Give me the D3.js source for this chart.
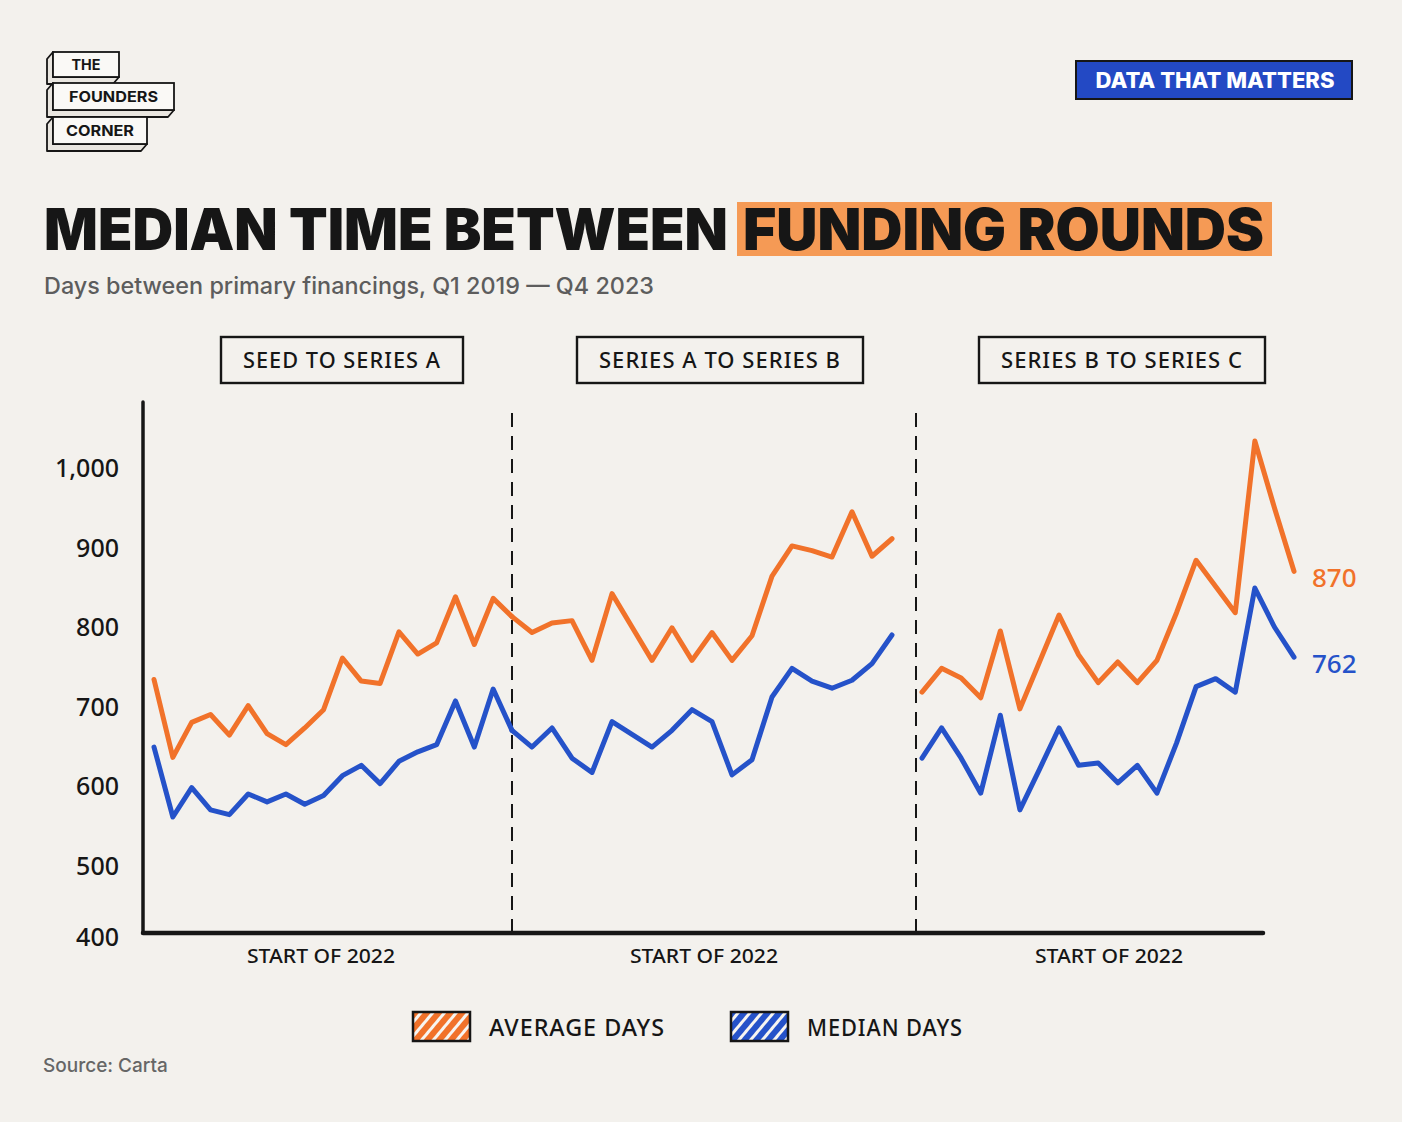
<!DOCTYPE html>
<html>
<head>
<meta charset="utf-8">
<script src="https://cdn.jsdelivr.net/npm/d3@7"></script>
<style>
  html, body { margin: 0; padding: 0; background: #f3f1ed; }
  svg { display: block; }
</style>
</head>
<body>
<div id="chart"></div>
<script>
// ---- data (days between rounds) ----
const quarters = [
  "Q1 2019", "Q2 2019", "Q3 2019", "Q4 2019",
  "Q1 2020", "Q2 2020", "Q3 2020", "Q4 2020",
  "Q1 2021", "Q2 2021", "Q3 2021", "Q4 2021",
  "Q1 2022", "Q2 2022", "Q3 2022", "Q4 2022",
  "Q1 2023", "Q2 2023", "Q3 2023", "Q4 2023"
]
const panelNames = ["SEED TO SERIES A", "SERIES A TO SERIES B", "SERIES B TO SERIES C"]
const seedAverage = [734, 636, 680, 690, 664, 701, 666, 652, 673, 696, 761, 732, 729, 794, 766, 780, 838, 778, 836, 813]
const seedMedian  = [649, 561, 598, 570, 564, 590, 580, 590, 577, 588, 613, 626, 603, 631, 643, 652, 707, 649, 722, 670]
const aToBAverage = [813, 793, 805, 808, 758, 842, 800, 758, 799, 758, 793, 758, 789, 864, 902, 896, 888, 945, 889, 911]
const aToBMedian  = [670, 649, 673, 635, 617, 681, 665, 649, 670, 696, 681, 614, 633, 712, 748, 732, 723, 733, 754, 790]
const bToCAverage = [718, 748, 736, 711, 795, 697, 756, 815, 765, 730, 756, 730, 758, 818, 884, 851, 818, 1034, 950, 870]
const bToCMedian  = [635, 673, 635, 591, 689, 570, 621, 673, 626, 629, 604, 626, 591, 654, 725, 735, 718, 849, 800, 762]
const yTicks = [400, 500, 600, 700, 800, 900, 1000]
const xLabel = "START OF 2022"
const seriesNames = ["AVERAGE DAYS", "MEDIAN DAYS"]

// ---- layout ----
const width = 1402
const height = 1122
const orange = "#f1722a"
const blue = "#2552c9"
const ink = "#161616"
const hand = "'Noto Sans', 'DejaVu Sans', sans-serif"
const grot = "Inter, Roboto, 'Liberation Sans', sans-serif"

const axisLeft = 143
const axisRight = 1263
const axisTop = 402
const baseY = 933
const panelRanges = [[154, 512], [512, 892], [922, 1294]]
const dividers = [512, 916]
const headerCenters = [342, 720, 1122]
const xLabelCenters = [321, 704, 1109]

const panels = [
  { name: panelNames[0], avg: seedAverage, med: seedMedian },
  { name: panelNames[1], avg: aToBAverage, med: aToBMedian },
  { name: panelNames[2], avg: bToCAverage, med: bToCMedian }
]

const y = d3.scaleLinear().domain([400, 1000]).range([945, 468])

const svg = d3.select("#chart").append("svg")
  .attr("width", width)
  .attr("height", height)
  .style("background", "#f3f1ed")

const defs = svg.append("defs")
;[["hatch-avg", orange], ["hatch-med", blue]].forEach(([id, c]) => {
  const p = defs.append("pattern")
    .attr("id", id)
    .attr("patternUnits", "userSpaceOnUse")
    .attr("width", 9).attr("height", 9)
    .attr("patternTransform", "rotate(40)")
  p.append("rect").attr("width", 9).attr("height", 9).attr("fill", c)
  p.append("rect").attr("width", 3).attr("height", 9).attr("fill", "#f7f5f1")
})

// fit a text element to a target width
function fit(sel, w) {
  const n = sel.node().getComputedTextLength()
  if (Math.abs(n - w) > 1) sel.attr("textLength", w).attr("lengthAdjust", "spacingAndGlyphs")
  return sel
}

// ---- logo ----
const logo = svg.append("g")
const logoBoxes = [
  { t: "THE", x0: 53, x1: 119, y0: 52, y1: 77, tw: 29 },
  { t: "FOUNDERS", x0: 53, x1: 174, y0: 83, y1: 110, tw: 89 },
  { t: "CORNER", x0: 53, x1: 147, y0: 117, y1: 144, tw: 68 }
]
const dx = -6, dy = 7
logoBoxes.forEach(b => {
  logo.append("path")
    .attr("d", `M${b.x0},${b.y0} L${b.x0 + dx},${b.y0 + dy} L${b.x0 + dx},${b.y1 + dy} L${b.x1 + dx},${b.y1 + dy} L${b.x1},${b.y1} L${b.x0},${b.y1} Z`)
    .attr("fill", "#e9e6e0").attr("stroke", ink).attr("stroke-width", 1.8).attr("stroke-linejoin", "round")
  logo.append("rect")
    .attr("x", b.x0).attr("y", b.y0).attr("width", b.x1 - b.x0).attr("height", b.y1 - b.y0)
    .attr("fill", "#faf9f6").attr("stroke", ink).attr("stroke-width", 1.8)
  fit(logo.append("text")
    .attr("x", (b.x0 + b.x1) / 2).attr("y", (b.y0 + b.y1) / 2 + 5.5)
    .attr("text-anchor", "middle")
    .attr("font-family", grot).attr("font-weight", 700).attr("font-size", 15)
    .attr("fill", ink).text(b.t), b.tw)
})

// ---- badge ----
svg.append("rect")
  .attr("x", 1076).attr("y", 61).attr("width", 276).attr("height", 38)
  .attr("fill", "#2349c4").attr("stroke", ink).attr("stroke-width", 2)
fit(svg.append("text")
  .attr("x", 1215).attr("y", 88)
  .attr("text-anchor", "middle")
  .attr("font-family", grot).attr("font-weight", 800).attr("font-size", 21)
  .attr("fill", "#fff").text("DATA THAT MATTERS"), 239)

// ---- title ----
svg.append("rect")
  .attr("x", 737).attr("y", 202).attr("width", 535).attr("height", 54)
  .attr("fill", "#f59a55")
fit(svg.append("text")
  .attr("x", 44).attr("y", 250)
  .attr("font-family", grot).attr("font-weight", 900).attr("font-size", 58)
  .attr("fill", ink).text("MEDIAN TIME BETWEEN"), 684)
fit(svg.append("text")
  .attr("x", 743).attr("y", 250)
  .attr("font-family", grot).attr("font-weight", 900).attr("font-size", 58)
  .attr("fill", ink).text("FUNDING ROUNDS"), 521)
fit(svg.append("text")
  .attr("x", 44).attr("y", 294)
  .attr("font-family", grot).attr("font-weight", 500).attr("font-size", 23)
  .attr("fill", "#5d5d5d").text("Days between primary financings, Q1 2019 \u2014 Q4 2023"), 610)

// ---- panel headers ----
const headerW = [198, 242, 242]
panels.forEach((p, i) => {
  const w = headerW[i] + 44
  svg.append("rect")
    .attr("x", headerCenters[i] - w / 2).attr("y", 337)
    .attr("width", w).attr("height", 46)
    .attr("fill", "none").attr("stroke", ink).attr("stroke-width", 2.4)
  fit(svg.append("text")
    .attr("x", headerCenters[i]).attr("y", 368)
    .attr("text-anchor", "middle")
    .attr("font-family", hand).attr("font-weight", 500).attr("font-size", 21).attr("letter-spacing", 1)
    .attr("fill", ink).text(p.name), headerW[i])
})

// ---- y axis labels ----
svg.append("g").selectAll("text")
  .data(yTicks)
  .join("text")
  .attr("x", 119)
  .attr("y", d => d === 400 ? baseY + 13 : y(d) + 9)
  .attr("text-anchor", "end")
  .attr("font-family", hand).attr("font-weight", 500).attr("font-size", 25)
  .attr("fill", ink)
  .text(d => d3.format(",")(d))

// ---- dividers ----
svg.append("g").selectAll("line")
  .data(dividers)
  .join("line")
  .attr("x1", d => d).attr("x2", d => d)
  .attr("y1", 413).attr("y2", baseY)
  .attr("stroke", ink).attr("stroke-width", 2)
  .attr("stroke-dasharray", "14 9")

// ---- lines ----
const plot = svg.append("g")
panels.forEach((p, i) => {
  const x = d3.scalePoint().domain(quarters).range(panelRanges[i])
  const line = d3.line().x((d, j) => x(quarters[j])).y(d => y(d))
  plot.append("path").datum(p.avg)
    .attr("d", line).attr("fill", "none")
    .attr("stroke", orange).attr("stroke-width", 5)
    .attr("stroke-linejoin", "round").attr("stroke-linecap", "round")
  plot.append("path").datum(p.med)
    .attr("d", line).attr("fill", "none")
    .attr("stroke", blue).attr("stroke-width", 5)
    .attr("stroke-linejoin", "round").attr("stroke-linecap", "round")
  p.x = x
})

// end labels on last panel
const last = panels[2]
const lastQ = quarters[quarters.length - 1]
;[[last.avg, orange], [last.med, blue]].forEach(([s, c]) => {
  const v = s[s.length - 1]
  svg.append("text")
    .attr("x", last.x(lastQ) + 18).attr("y", y(v) + 16)
    .attr("font-family", hand).attr("font-weight", 500).attr("font-size", 26)
    .attr("fill", c).text(v)
})

// ---- axes ----
svg.append("line")
  .attr("x1", axisLeft).attr("x2", axisLeft)
  .attr("y1", axisTop).attr("y2", baseY)
  .attr("stroke", ink).attr("stroke-width", 3.5).attr("stroke-linecap", "round")
svg.append("line")
  .attr("x1", axisLeft).attr("x2", axisRight)
  .attr("y1", baseY).attr("y2", baseY)
  .attr("stroke", ink).attr("stroke-width", 4.5).attr("stroke-linecap", "round")

xLabelCenters.forEach(cx => {
  fit(svg.append("text")
    .attr("x", cx).attr("y", 963)
    .attr("text-anchor", "middle")
    .attr("font-family", hand).attr("font-weight", 500).attr("font-size", 19)
    .attr("fill", ink).text(xLabel), 148)
})

// ---- legend ----
const legend = svg.append("g")
const legendItems = [
  { t: seriesNames[0], fill: "url(#hatch-avg)", x: 413, tw: 176 },
  { t: seriesNames[1], fill: "url(#hatch-med)", x: 731, tw: 156 }
]
legendItems.forEach(d => {
  legend.append("rect")
    .attr("x", d.x).attr("y", 1012).attr("width", 57).attr("height", 29)
    .attr("fill", d.fill).attr("stroke", ink).attr("stroke-width", 2.5)
  fit(legend.append("text")
    .attr("x", d.x + 76).attr("y", 1036)
    .attr("font-family", hand).attr("font-weight", 500).attr("font-size", 24).attr("letter-spacing", 1)
    .attr("fill", ink).text(d.t), d.tw)
})

// ---- source ----
svg.append("text")
  .attr("x", 43).attr("y", 1072)
  .attr("font-family", grot).attr("font-weight", 500).attr("font-size", 19)
  .attr("fill", "#666").text("Source: Carta")
</script>
</body>
</html>
